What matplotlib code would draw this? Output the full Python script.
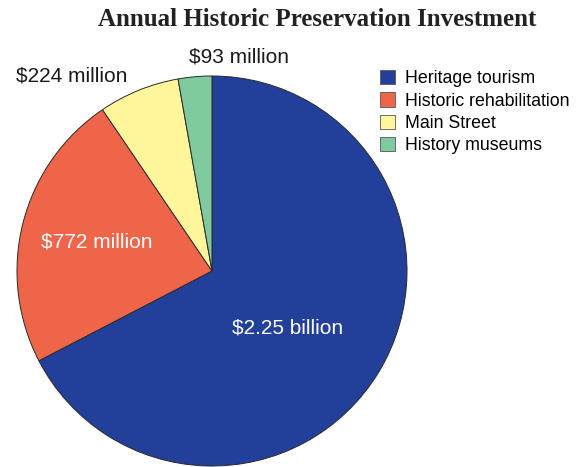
import matplotlib
matplotlib.use("Agg")
import matplotlib.pyplot as plt
from matplotlib.patches import Patch

# annual investment, millions of dollars
categories = ["Heritage tourism", "Historic rehabilitation", "Main Street", "History museums"]
values = [2250, 772, 224, 93]
colors = ["#22409a", "#ef6549", "#fff59b", "#80caa0"]


def money(v):
    if v >= 1000:
        return "${:.2f} billion".format(v / 1000)
    return "${} million".format(v)


plt.rcParams["font.family"] = ["Liberation Sans", "DejaVu Sans"]

fig = plt.figure(figsize=(5.86, 4.67), dpi=100)
W, H = 586, 467
cx, cy, r = 212, 271, 195
ax = fig.add_axes([(cx - r) / W, (H - cy - r) / H, 2 * r / W, 2 * r / H])

wedges, _ = ax.pie(values, colors=colors, startangle=90, counterclock=False,
                   radius=1, wedgeprops=dict(edgecolor="#2a2a2a", linewidth=0.7))
ax.set_xlim(-1, 1)
ax.set_ylim(-1, 1)
ax.set_aspect("equal")
ax.axis("off")

# label placement (data coords) and text colour per slice
label_pos = [(0.39, -0.29), (-0.59, 0.15), (-0.72, 1.0), (0.14, 1.1)]
label_col = ["white", "white", "#1a1a1a", "#1a1a1a"]
for v, (x, y), c in zip(values, label_pos, label_col):
    ax.text(x, y, money(v), ha="center", va="center", fontsize=15, color=c,
            clip_on=False)

handles = [Patch(facecolor=c, edgecolor="#555555", linewidth=0.6) for c in colors]
fig.legend(handles, categories, loc="upper left", bbox_to_anchor=(373 / W, 1 - 63 / H),
           frameon=False, fontsize=12.8, handlelength=0.85, handleheight=0.85,
           handletextpad=0.55, labelspacing=0.28, borderaxespad=0)

fig.text(317 / W, 1 - 20 / H, "Annual Historic Preservation Investment",
         ha="center", va="center", fontsize=18, fontweight="bold",
         family=["Liberation Serif"], color="#222222")

fig.savefig("out.png", dpi=100)
